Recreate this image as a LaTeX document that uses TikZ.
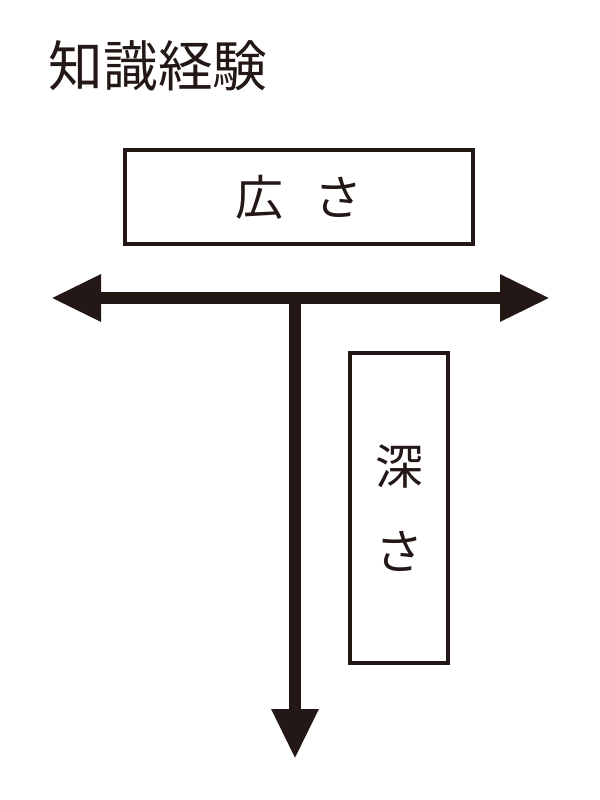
\documentclass[tikz,border=0pt]{standalone}
\usepackage{fontspec}
\setmainfont{Noto Sans CJK JP}
\usepackage{tikz}
\usetikzlibrary{arrows.meta}

\definecolor{inkblack}{HTML}{231815}

\tikzset{
    labelbox/.style={draw=inkblack, line width=3pt, fill=white, inner sep=0pt, text=inkblack},
    bigarrow/.style={draw=inkblack, line width=9pt, -{Triangle[length=37.5pt, width=33pt]}},
}

\begin{document}
\begin{tikzpicture}[x=0.75pt, y=-0.75pt]
    \useasboundingbox (0,0) rectangle (600,800);

    \node[anchor=west, text=inkblack, font=\fontsize{41pt}{41pt}\selectfont] (title) at (44,66) {知識経験};

    \node[labelbox, minimum width=261pt, minimum height=70.5pt, font=\fontsize{36pt}{36pt}\selectfont] (width) at (299,197) {広\hspace{24pt}さ};

    \node[labelbox, minimum width=73.5pt, minimum height=232.5pt, align=center, font=\fontsize{36pt}{63.75pt}\selectfont] (depth) at (399,508) {深\\さ};

    \coordinate (center) at (295,298);
    \coordinate (left) at (51,298);
    \coordinate (right) at (550,298);
    \coordinate (bottom) at (295,759);

    \draw[bigarrow] (center) -- (left);
    \draw[bigarrow] (center) -- (right);
    \draw[bigarrow] (center) -- (bottom);

\end{tikzpicture}
\end{document}
